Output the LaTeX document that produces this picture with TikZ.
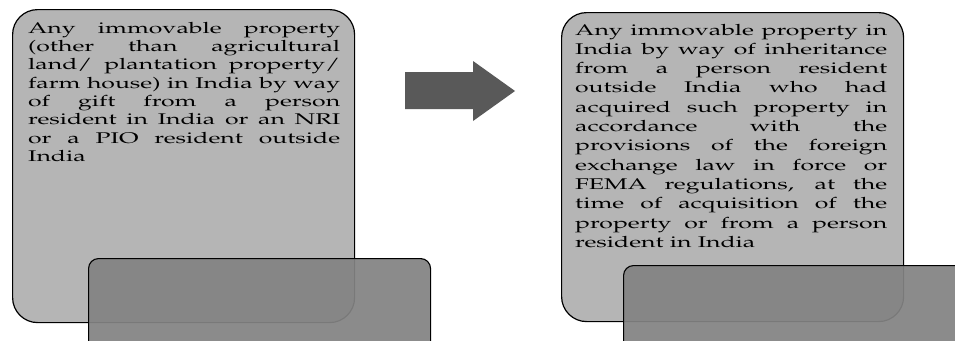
\documentclass[tikz,border=0pt]{standalone}
\usepackage[T1]{fontenc}
\usepackage{mathpazo}
\usepackage{graphicx}
\usetikzlibrary{positioning}
\definecolor{panelgray}{RGB}{181,181,181}
\definecolor{tabgray}{RGB}{131,131,131}
\definecolor{arrowgray}{RGB}{89,89,89}
\newlength{\blurbwidth}
\setlength{\blurbwidth}{195pt}
\newcommand{\jl}[1]{\makebox[\linewidth][s]{#1}\\}
\tikzset{
	panel/.append style={
		draw=black,
		fill=panelgray,
		rounded corners=25pt,
		line width=1.2pt,
		inner sep=0pt,
		anchor=north west
	},
	flap/.append style={
		draw=black,
		fill=tabgray,
		fill opacity=0.93,
		rounded corners=10pt,
		line width=1.1pt,
		inner sep=0pt,
		anchor=north west
	},
	blurb/.append style={
		anchor=base west,
		inner sep=0pt
	}
}

\begin{document}
\begin{tikzpicture}[x=1pt,y=-1pt]
	\clip (0,0) rectangle (955,340);
	\fill[white] (0,0) rectangle (955,340);

	\node[panel, minimum width=342pt, minimum height=313pt] (gift) at (12,9) {};
	\node[panel, minimum width=342pt, minimum height=309pt] (inherit) at (561,12) {};

	\node[blurb] (gifttext) at (28,33.3) {\scalebox{1.6}[1]{\parbox[t]{\blurbwidth}{\fontsize{15.5}{18.3}\selectfont
		\jl{Any immovable property}
		\jl{(other than agricultural}
		\jl{land/ plantation property/}
		\jl{farm house) in India by way}
		\jl{of gift from a person}
		\jl{resident in India or an NRI}
		\jl{or a PIO resident outside}
		India}}};
	\node[blurb] (inherittext) at (575,35) {\scalebox{1.6}[1]{\parbox[t]{\blurbwidth}{\fontsize{15.5}{19.3}\selectfont
		\jl{Any immovable property in}
		\jl{India by way of inheritance}
		\jl{from a person resident}
		\jl{outside India who had}
		\jl{acquired such property in}
		\jl{accordance with the}
		\jl{provisions of the foreign}
		\jl{exchange law in force or}
		\jl{FEMA regulations, at the}
		\jl{time of acquisition of the}
		\jl{property or from a person}
		resident in India}}};

	\node[flap, minimum width=342pt, minimum height=110pt] (giftflap) at (88,258) {};
	\node[flap, minimum width=370pt, minimum height=110pt] (inheritflap) at (623,265) {};

	\fill[arrowgray] (405,72) -- (473,72) -- (473,61) -- (515,91) -- (473,121) -- (473,109) -- (405,109) -- cycle;
\end{tikzpicture}
\end{document}
